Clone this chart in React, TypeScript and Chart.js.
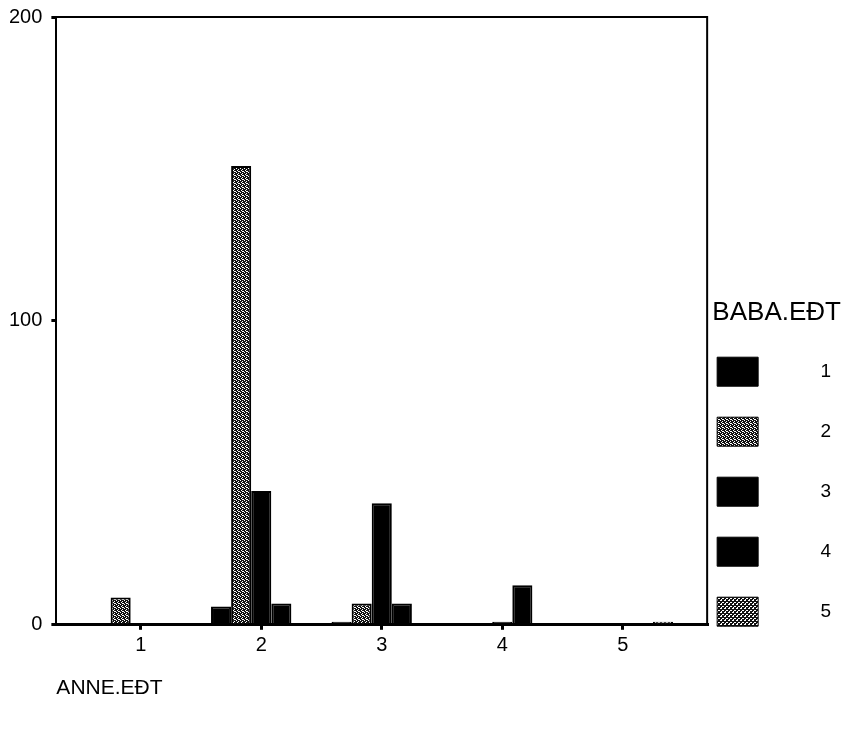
import React, { useEffect, useRef } from 'react';
import { Chart, registerables } from 'chart.js';

Chart.register(...registerables);

// ---- data ----
const CATEGORIES = [1, 2, 3, 4, 5];
const SERIES_LABELS = ['1', '2', '3', '4', '5'];
const BABA_1 = [0, 6, 1, 0, 0];
const BABA_2 = [9, 151, 7, 0, 0];
const BABA_3 = [0, 44, 40, 1, 0];
const BABA_4 = [0, 7, 7, 13, 0];
const BABA_5 = [0, 0, 0, 0, 1];
const Y_TICKS = [0, 100, 200];
const X_TITLE = 'ANNE.EÐT';
const LEGEND_TITLE = '\u2009BABA.EÐT';

const FONT = "'Liberation Sans', Arial, sans-serif";

function makePattern(dots: number[][], bg: string): CanvasPattern | string {
  const c = document.createElement('canvas');
  c.width = 4;
  c.height = 4;
  const g = c.getContext('2d');
  if (!g) return '#555';
  g.fillStyle = bg;
  g.fillRect(0, 0, 4, 4);
  g.fillStyle = '#ffffff';
  dots.forEach(([x, y]) => g.fillRect(x, y, 1, 1));
  const p = g.createPattern(c, 'repeat');
  return p || '#555';
}

const framePlugin = {
  id: 'frame',
  afterDatasetsDraw(chart: any) {
    const { ctx, chartArea } = chart;
    const { left, right, top, bottom } = chartArea;
    ctx.save();
    ctx.strokeStyle = '#000';
    ctx.lineWidth = 2;
    ctx.beginPath();
    ctx.moveTo(left, top);
    ctx.lineTo(right, top);
    ctx.lineTo(right, bottom);
    ctx.stroke();
    ctx.restore();
  },
};

export default function App() {
  const ref = useRef<HTMLCanvasElement | null>(null);

  useEffect(() => {
    if (!ref.current) return;
    const pat2 = makePattern([[0, 0], [2, 1], [1, 2], [3, 3], [2, 3]], '#111');
    const pat5 = makePattern([[0, 0], [1, 0], [2, 2], [3, 2], [1, 3]], '#111');
    const series = [BABA_1, BABA_2, BABA_3, BABA_4, BABA_5];
    const fills: any[] = ['#000', pat2, '#000', '#000', pat5];
    const PAD = '          ';

    const chart = new Chart(ref.current, {
      type: 'bar',
      data: {
        datasets: series.map((vals, i) => ({
          label: SERIES_LABELS[i],
          data: CATEGORIES.map((c, j) => ({ x: c, y: vals[j] })),
          backgroundColor: fills[i],
          borderColor: '#000',
          borderWidth: 2,
          categoryPercentage: 100 / 120,
          barPercentage: 1,
        })),
      },
      options: {
        animation: false,
        responsive: true,
        maintainAspectRatio: false,
        layout: { padding: { top: 2, right: 1, bottom: 0, left: 0 } },
        plugins: {
          tooltip: { enabled: false },
          legend: {
            position: 'right',
            align: 'start',
            title: {
              display: true,
              text: LEGEND_TITLE,
              position: 'start',
              color: '#000',
              font: { family: FONT, size: 26 },
              padding: { top: 298, bottom: 16 },
            },
            labels: {
              boxWidth: 41,
              boxHeight: 29,
              padding: 10,
              color: '#000',
              textAlign: 'left',
              font: { family: FONT, size: 19, lineHeight: '50px' },
              generateLabels: (ch: any) =>
                ch.data.datasets.map((ds: any, i: number) => ({
                  text: [PAD + ds.label],
                  fillStyle: ds.backgroundColor,
                  strokeStyle: '#000',
                  lineWidth: 1,
                  hidden: false,
                  datasetIndex: i,
                  textAlign: 'left',
                  fontColor: '#000',
                })),
            },
          },
        },
        scales: {
          x: {
            type: 'linear',
            min: 0.3,
            max: 5.7,
            offset: false,
            afterBuildTicks: (scale: any) => {
              scale.ticks = CATEGORIES.map((v) => ({ value: v }));
            },
            ticks: {
              color: '#000',
              font: { family: FONT, size: 20 },
              padding: 4,
              callback: (v: any) => String(v),
            },
            grid: {
              offset: false,
              drawOnChartArea: false,
              drawTicks: true,
              tickLength: 5,
              lineWidth: 3,
              color: '#000',
            },
            border: { display: true, color: '#000', width: 3 },
            title: {
              display: true,
              text: X_TITLE,
              align: 'start',
              color: '#000',
              font: { family: FONT, size: 21 },
              padding: { top: 14, bottom: 28 },
            },
          },
          y: {
            min: 0,
            max: 200,
            afterBuildTicks: (scale: any) => {
              scale.ticks = Y_TICKS.map((v) => ({ value: v }));
            },
            ticks: {
              color: '#000',
              font: { family: FONT, size: 20, lineHeight: 0.8 },
              padding: 9,
            },
            grid: {
              drawOnChartArea: false,
              drawTicks: true,
              tickLength: 5,
              lineWidth: 3,
              color: '#000',
            },
            border: { display: true, color: '#000', width: 2 },
          },
        },
      },
      plugins: [framePlugin],
    } as any);

    return () => chart.destroy();
  }, []);

  return (
    <div style={{ position: 'fixed', left: 0, top: 0, width: 842, height: 729, background: '#fff' }}>
      <canvas ref={ref} />
    </div>
  );
}
